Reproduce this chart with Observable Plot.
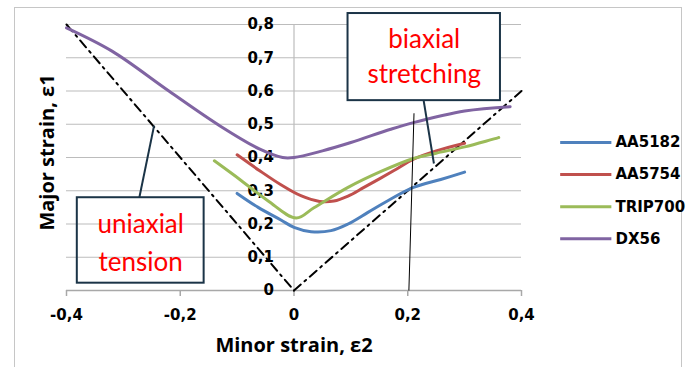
<!DOCTYPE html>
<html>
<head>
<meta charset="utf-8">
<script src="https://cdn.jsdelivr.net/npm/d3@7"></script>
<script src="https://cdn.jsdelivr.net/npm/@observablehq/plot@0.6"></script>
<style>
  html, body { margin: 0; padding: 0; background: #fff; }
  #wrap { position: relative; width: 688px; height: 367px; overflow: hidden; }
  #border { position: absolute; left: 14px; top: 7px; width: 668px; height: 380px; border: 1.5px solid #c6c6c6; box-sizing: border-box; }
  #chart { position: absolute; left: 0; top: 0; }
</style>
</head>
<body>
<div id="wrap"><div id="border"></div><div id="chart"></div></div>
<script>
// ---- data ----
const seriesNames = ["AA5182", "AA5754", "TRIP700", "DX56"];
const seriesColors = ["#4F81BD", "#C0504D", "#9BBB59", "#8064A2"];

const AA5182 = [[-0.10,0.292],[-0.063,0.25],[-0.023,0.212],[0.0,0.19],[0.03,0.177],[0.065,0.18],[0.095,0.20],[0.13,0.235],[0.165,0.27],[0.21,0.31],[0.258,0.334],[0.30,0.356]];
const AA5754 = [[-0.10,0.408],[-0.061,0.361],[-0.023,0.318],[0.012,0.285],[0.045,0.268],[0.07,0.269],[0.095,0.284],[0.123,0.31],[0.175,0.36],[0.21,0.395],[0.25,0.42],[0.30,0.443]];
const TRIP700 = [[-0.14,0.39],[-0.093,0.331],[-0.046,0.27],[0.004,0.218],[0.035,0.249],[0.095,0.31],[0.153,0.358],[0.21,0.397],[0.25,0.413],[0.30,0.432],[0.36,0.46]];
const DX56 = [[-0.40,0.79],[-0.32,0.72],[-0.22,0.60],[-0.13,0.495],[-0.06,0.425],[-0.02,0.40],[0.0,0.40],[0.05,0.42],[0.10,0.445],[0.17,0.485],[0.21,0.505],[0.30,0.54],[0.38,0.553]];
const seriesValues = [AA5182, AA5754, TRIP700, DX56];

const uniaxialLine = [[-0.4,0.8],[0,0]];
const biaxialLine = [[0,0],[0.4,0.6]];

const xTicks = [-0.4, -0.2, 0, 0.2, 0.4];
const yTicks = [0, 0.1, 0.2, 0.3, 0.4, 0.5, 0.6, 0.7, 0.8];
const xTickLabels = ["-0,4", "-0,2", "0", "0,2", "0,4"];
const yTickLabels = ["0", "0,1", "0,2", "0,3", "0,4", "0,5", "0,6", "0,7", "0,8"];

const xTitle = "Minor strain, ε2";
const yTitle = "Major strain, ε1";
const uniaxialLabel = ["uniaxial", "tension"];
const biaxialLabel = ["biaxial", "stretching"];

// ---- build table ----
const rows = seriesNames.flatMap((name, i) =>
  seriesValues[i].map(([x, y]) => ({series: name, x, y})));

// annotation layout (data units / px offsets)
const uniBox = {x1: -0.381, x2: -0.158, y1: 0.022, y2: 0.279};
const biBox = {x1: 0.095, x2: 0.363, y1: 0.571, y2: 0.833};
const uniLeader = {x1: -0.272, y1: 0.279, x2: -0.246, y2: 0.496};
const biLeader = {x1: 0.228, y1: 0.571, x2: 0.246, y2: 0.382};
const thinLine = {x1: 0.202, y1: 0, x2: 0.211, y2: 0.533};
const legendRows = seriesNames.map((name, i) => ({name, color: seriesColors[i], y: 0.445 - i * 0.0965}));
const uniOffsets = [-16, 22];
const biOffsets = [-17, 18];

const tickFont = "'DejaVu Sans', sans-serif";
const titleFont = "'Open Sans', Lato, sans-serif";
const boxFont = "Lato, 'Open Sans', sans-serif";

const chart = Plot.plot({
  width: 688,
  height: 367,
  marginLeft: 66,
  marginRight: 167,
  marginTop: 24,
  marginBottom: 77,
  x: {domain: [-0.4, 0.4], axis: null},
  y: {domain: [0, 0.8], axis: null},
  style: {background: "transparent", overflow: "visible"},
  marks: [
    Plot.ruleY(yTicks.slice(1), {x1: -0.4, x2: 0.4, stroke: "#bcbcbc", strokeWidth: 1.2, strokeOpacity: 1}),
    Plot.ruleX([0], {y1: 0, y2: 0.8, stroke: "#bcbcbc", strokeWidth: 1.2, strokeOpacity: 1}),
    Plot.ruleY([0], {x1: -0.4, x2: 0.4, stroke: "#a8a8a8", strokeWidth: 1.5, strokeOpacity: 1}),
    Plot.ruleX(xTicks, {y1: 0, y2: -0.018, stroke: "#a8a8a8", strokeWidth: 1.5, strokeOpacity: 1}),
    Plot.text(xTicks, {x: d => d, y: 0, dy: 25, text: (d, i) => xTickLabels[i], fontFamily: tickFont, fontWeight: "bold", fontSize: 15, fill: "#000"}),
    Plot.text(yTicks, {x: 0, y: d => d, dx: -20, textAnchor: "end", text: (d, i) => yTickLabels[i], fontFamily: tickFont, fontWeight: "bold", fontSize: 15, fill: "#000"}),
    Plot.rect([uniBox], {x1: "x1", x2: "x2", y1: "y1", y2: "y2", fill: "none", stroke: "#1b3447", strokeWidth: 2}),
    Plot.line(uniaxialLine, {x: d => d[0], y: d => d[1], stroke: "#000", strokeWidth: 2, strokeDasharray: "9,5,2,5"}),
    Plot.line(biaxialLine, {x: d => d[0], y: d => d[1], stroke: "#000", strokeWidth: 2, strokeDasharray: "9,5,2,5"}),
    Plot.line(rows, {x: "x", y: "y", z: "series", stroke: d => seriesColors[seriesNames.indexOf(d.series)], strokeWidth: 3, curve: "catmull-rom"}),
    Plot.link([thinLine], {x1: "x1", y1: "y1", x2: "x2", y2: "y2", stroke: "#000", strokeWidth: 1}),
    Plot.rect([biBox], {x1: "x1", x2: "x2", y1: "y1", y2: "y2", fill: "#fff", stroke: "#1b3447", strokeWidth: 2}),
    Plot.link([uniLeader, biLeader], {x1: "x1", y1: "y1", x2: "x2", y2: "y2", stroke: "#1b3447", strokeWidth: 2}),
    ...uniaxialLabel.map((t, i) => Plot.text([t], {x: (uniBox.x1 + uniBox.x2) / 2, y: (uniBox.y1 + uniBox.y2) / 2, dy: uniOffsets[i], text: d => d, fill: "#ff0000", fontFamily: boxFont, fontSize: 26})),
    ...biaxialLabel.map((t, i) => Plot.text([t], {x: (biBox.x1 + biBox.x2) / 2, y: (biBox.y1 + biBox.y2) / 2, dy: biOffsets[i], text: d => d, fill: "#ff0000", fontFamily: boxFont, fontSize: 26})),
    Plot.link(legendRows, {x1: 0.468, x2: 0.558, y1: "y", y2: "y", stroke: "color", strokeWidth: 3}),
    Plot.text(legendRows, {x: 0.56, y: "y", dx: 3, text: "name", textAnchor: "start", fontFamily: tickFont, fontWeight: "bold", fontSize: 15, fill: "#000"}),
    Plot.text([xTitle], {x: 0, y: 0, dy: 55, text: d => d, fontFamily: titleFont, fontWeight: "bold", fontSize: 20, fill: "#000"}),
    Plot.text([yTitle], {x: -0.4, y: 0.415, dx: -19, rotate: -90, text: d => d, fontFamily: titleFont, fontWeight: "bold", fontSize: 20, fill: "#000"})
  ]
});
document.getElementById("chart").appendChild(chart);
</script>
</body>
</html>
